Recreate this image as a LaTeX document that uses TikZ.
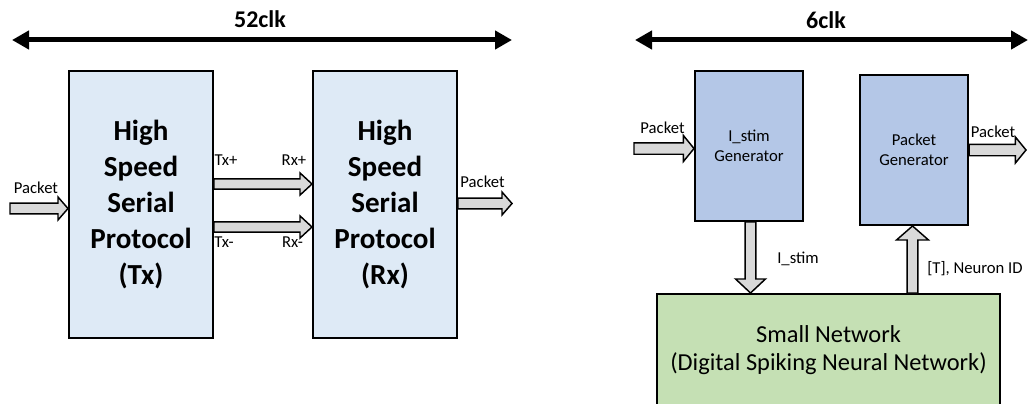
\documentclass[tikz,border=0pt]{standalone}
\usepackage{fontspec}
\setmainfont{Carlito}
\usetikzlibrary{calc,arrows.meta}
\definecolor{txfill}{HTML}{DEEAF6}
\definecolor{genfill}{HTML}{B4C7E7}
\definecolor{netfill}{HTML}{C5E0B4}
\definecolor{arrfill}{HTML}{D9D9D9}
% #1 from, #2 to, #3 shaft half width, #4 head half width, #5 head length
\newcommand\blockarrow[5]{%
  \coordinate (bah) at ($(#2)!#5!(#1)$);
  \draw[blk] ($(#1)!#3!90:(#2)$) -- ($(bah)!#3!90:(#2)$) -- ($(bah)!#4!90:(#2)$)
    -- (#2) -- ($(bah)!#4!-90:(#2)$) -- ($(bah)!#3!-90:(#2)$) -- ($(#1)!#3!-90:(#2)$) -- cycle;}
\begin{document}
\begin{tikzpicture}[x=0.75pt,y=-0.75pt,
  box/.style={draw=black, line width=1.5pt, align=center, inner sep=0pt},
  txbox/.style={box, fill=txfill, minimum width=108pt, minimum height=200.25pt,
    font=\bfseries\fontsize{21.8}{27}\selectfont},
  genbox/.style={box, fill=genfill, minimum width=81pt, minimum height=112.5pt,
    font=\fontsize{12.5}{15}\selectfont},
  netbox/.style={box, fill=netfill, minimum width=257.25pt, minimum height=84pt,
    font=\fontsize{18.3}{21}\selectfont},
  blk/.style={draw=black, line width=1.1pt, fill=arrfill, line join=miter},
  clk/.style={line width=3.75pt, {Triangle[length=12.75pt,width=13.5pt]}-{Triangle[length=12.75pt,width=13.5pt]}},
  clklbl/.style={font=\bfseries\fontsize{18}{21}\selectfont},
  lbl/.style={font=\fontsize{12.5}{15}\selectfont, inner sep=0pt}]
\useasboundingbox (0,0) rectangle (1030,403);

% ---------- left part ----------
\coordinate (l1) at (12,40);
\coordinate (l2) at (512,40);
\draw[clk] (l1) -- (l2);
\node[clklbl] (lclk) at (260,19) {52clk};

\node[txbox, anchor=north west] (tx) at (68,70) {High\\Speed\\Serial\\Protocol\\(Tx)};
\node[txbox, anchor=north west] (rx) at (312,70) {High\\Speed\\Serial\\Protocol\\(Rx)};

\coordinate (pin) at (10,208.5);
\blockarrow{pin}{tx.west |- pin}{4.1pt}{8.6pt}{7.5pt}
\node[lbl] (pinl) at (36,188) {Packet};

\coordinate (tp) at (0,184);
\coordinate (tm) at (0,227);
\blockarrow{tx.east |- tp}{rx.west |- tp}{3.9pt}{8.3pt}{9pt}
\blockarrow{tx.east |- tm}{rx.west |- tm}{3.9pt}{8.3pt}{9pt}
\node[lbl] (txp) at (226,160) {Tx+};
\node[lbl] (rxp) at (294,160) {Rx+};
\node[lbl] (txm) at (224,242) {Tx-};
\node[lbl] (rxm) at (292.5,242) {Rx-};

\coordinate (pout) at (512,203.5);
\blockarrow{rx.east |- pout}{pout}{4.1pt}{8.6pt}{7.5pt}
\node[lbl] (poutl) at (482.5,182) {Packet};

% ---------- right part ----------
\coordinate (r1) at (635,40);
\coordinate (r2) at (1028,40);
\draw[clk] (r1) -- (r2);
\node[clklbl] (rclk) at (826,20) {6clk};

\node[genbox, anchor=north west] (ig) at (694,70) {I\_stim\\Generator};
\node[genbox, anchor=north west] (pg) at (859,74) {Packet\\Generator};
\node[netbox, anchor=north west] (net) at (656,293) {Small Network\\(Digital Spiking Neural Network)};

\coordinate (rpin) at (634,148.5);
\blockarrow{rpin}{ig.west |- rpin}{4.3pt}{9.8pt}{8pt}
\node[lbl] (rpinl) at (662.5,128) {Packet};

\coordinate (rpout) at (1026,150);
\blockarrow{pg.east |- rpout}{rpout}{4.3pt}{9.8pt}{8pt}
\node[lbl] (rpoutl) at (993,132) {Packet};

\coordinate (ia) at (750.5,0);
\blockarrow{ig.south -| ia}{net.north -| ia}{4.1pt}{11.2pt}{10.5pt}
\node[lbl] (ial) at (798,259) {I\_stim};

\coordinate (na) at (912.5,0);
\blockarrow{net.north -| na}{pg.south -| na}{4.1pt}{12pt}{10.5pt}
\node[lbl, anchor=west] (nal) at (927,269) {[T], Neuron ID};
\end{tikzpicture}
\end{document}
